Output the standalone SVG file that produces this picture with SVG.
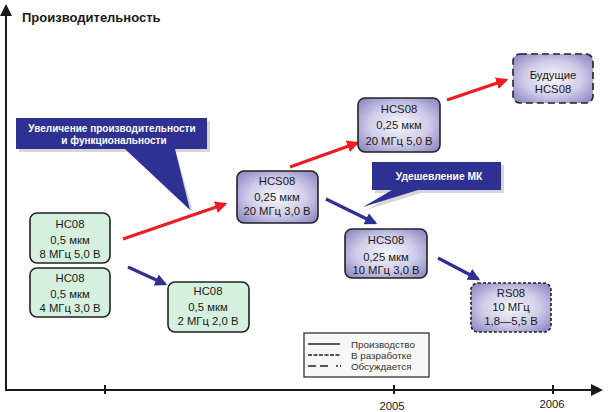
<svg xmlns="http://www.w3.org/2000/svg" width="611" height="412" viewBox="0 0 611 412">
<defs>
<style>
.ax{stroke:#1a1a1a;stroke-width:2;fill:none}
.node text,.yr{font-family:"Liberation Sans",Arial,sans-serif;font-size:11.3px;fill:#1a1a1a;text-anchor:middle}
.green{fill:#d6f0df;stroke:#222;stroke-width:1.6}
.purple{fill:url(#pg);stroke:#222;stroke-width:1.6}
.dot{stroke-dasharray:3 2}
.dash{stroke-dasharray:7 4}
.red{stroke:#ee1c24;stroke-width:3.2;fill:none}
.blue{stroke:#2e3192;stroke-width:3.2;fill:none}
.call{fill:#2e3192}
.calltxt{font-family:"Liberation Sans",Arial,sans-serif;font-weight:bold;fill:#fff;text-anchor:middle}
.leg{font-family:"Liberation Sans",Arial,sans-serif;font-size:9.8px;fill:#333}
.lline{stroke:#222;stroke-width:1.5}
</style>
<radialGradient id="pg" cx="50%" cy="50%" r="65%">
<stop offset="0" stop-color="#f6f6fc"/>
<stop offset="0.55" stop-color="#cfcde9"/>
<stop offset="1" stop-color="#8c89c4"/>
</radialGradient>
<marker id="ar" viewBox="0 0 10 10" refX="8" refY="5" markerWidth="3.8" markerHeight="3.8" markerUnits="strokeWidth" orient="auto"><path d="M0,0 L10,5 L0,10 z" fill="#ee1c24"/></marker>
<marker id="ab" viewBox="0 0 10 10" refX="8" refY="5" markerWidth="3.8" markerHeight="3.8" markerUnits="strokeWidth" orient="auto"><path d="M0,0 L10,5 L0,10 z" fill="#2e3192"/></marker>
<marker id="ak" viewBox="0 0 10 10" refX="5" refY="5" markerWidth="6" markerHeight="6" orient="auto"><path d="M0,0 L10,5 L0,10 z" fill="#1a1a1a"/></marker>
</defs>
<rect width="611" height="412" fill="#fff"/>

<g id="axes">
<line class="ax" x1="6" y1="390" x2="6" y2="10" marker-end="url(#ak)"/>
<line class="ax" x1="5" y1="390" x2="597" y2="390" marker-end="url(#ak)"/>
<line class="ax" x1="105" y1="385" x2="105" y2="394"/>
<line class="ax" x1="394" y1="385" x2="394" y2="394"/>
<line class="ax" x1="553" y1="385" x2="553" y2="394"/>
<text x="22" y="22" font-family="Liberation Sans,Arial,sans-serif" font-weight="bold" font-size="13" fill="#1a1a1a">Производительность</text>
<text class="yr" x="392" y="410">2005</text>
<text class="yr" x="552" y="408">2006</text>
</g>

<g id="callout-1">
<path d="M19,121 H210 V152 H176 L193,212 L128,152 H19 Z" fill="#bbb" opacity="0.6"/>
<path class="call" d="M16,118 H207 V149 H175 L190,210 L125,149 H16 Z"/>
<text class="calltxt" x="112" y="132" font-size="10">Увеличение производительности</text>
<text class="calltxt" x="114" y="144" font-size="10">и функциональности</text>
</g>

<g id="callout-2">
<path d="M375,165 H504 V193 H421 L366,210 L395,193 H375 Z" fill="#bbb" opacity="0.6"/>
<path class="call" d="M372,162 H501 V190 H418 L363,207 L392,190 H372 Z"/>
<text class="calltxt" x="439" y="180" font-size="10.3">Удешевление МК</text>
</g>

<g id="connectors">
<line class="red" x1="123" y1="239" x2="225" y2="204" marker-end="url(#ar)"/>
<line class="red" x1="290" y1="167" x2="357" y2="143" marker-end="url(#ar)"/>
<line class="red" x1="447" y1="100" x2="506" y2="80" marker-end="url(#ar)"/>
<line class="blue" x1="128" y1="267" x2="165" y2="284" marker-end="url(#ab)"/>
<line class="blue" x1="326" y1="199" x2="375" y2="223" marker-end="url(#ab)"/>
<line class="blue" x1="438" y1="258" x2="478" y2="279" marker-end="url(#ab)"/>
</g>

<g id="node-hc08-a" class="node">
<rect class="green" x="30" y="213" width="80" height="50" rx="7"/>
<text x="70" y="228">HC08</text>
<text x="70" y="244">0,5 мкм</text>
<text x="70" y="258">8 МГц 5,0 В</text>
</g>
<g id="node-hc08-b" class="node">
<rect class="green" x="30" y="268" width="80" height="49" rx="7"/>
<text x="70" y="282">HC08</text>
<text x="70" y="298">0,5 мкм</text>
<text x="70" y="312">4 МГц 3,0 В</text>
</g>
<g id="node-hc08-c" class="node">
<rect class="green" x="168" y="282" width="81" height="50" rx="7"/>
<text x="208" y="295">HC08</text>
<text x="208" y="311">0,5 мкм</text>
<text x="208" y="325">2 МГц 2,0 В</text>
</g>
<g id="node-hcs08-a" class="node">
<rect class="purple" x="237" y="171" width="81" height="52" rx="7"/>
<text x="277" y="185">HCS08</text>
<text x="277" y="201">0,25 мкм</text>
<text x="277" y="215">20 МГц 3,0 В</text>
</g>
<g id="node-hcs08-b" class="node">
<rect class="purple" x="358" y="98" width="82" height="54" rx="7"/>
<text x="399" y="113">HCS08</text>
<text x="399" y="129">0,25 мкм</text>
<text x="399" y="145">20 МГц 5,0 В</text>
</g>
<g id="node-hcs08-c" class="node">
<rect class="purple" x="345" y="229" width="82" height="49" rx="7"/>
<text x="386" y="244">HCS08</text>
<text x="386" y="261">0,25 мкм</text>
<text x="386" y="274">10 МГц 3,0 В</text>
</g>
<g id="node-rs08" class="node">
<rect class="purple dot" x="471" y="283" width="80" height="49" rx="7"/>
<text x="511" y="297">RS08</text>
<text x="511" y="311">10 МГц</text>
<text x="511" y="325">1,8—5,5 В</text>
</g>
<g id="node-future" class="node">
<rect class="purple dash" x="513" y="54" width="80" height="49" rx="7"/>
<text x="553" y="79">Будущие</text>
<text x="553" y="93">HCS08</text>
</g>

<g id="legend">
<rect x="304" y="333" width="125" height="44" fill="#f7f7f7" stroke="#333" stroke-width="1.3"/>
<line class="lline" x1="308" y1="344" x2="340" y2="344"/>
<line class="lline" x1="308" y1="355" x2="340" y2="355" stroke-dasharray="4 1.5"/>
<line class="lline" x1="308" y1="366" x2="341" y2="366" stroke-dasharray="8 4 8 8 2 2"/>
<text class="leg" x="351" y="348">Производство</text>
<text class="leg" x="351" y="359">В разработке</text>
<text class="leg" x="351" y="370">Обсуждается</text>
</g>
</svg>
